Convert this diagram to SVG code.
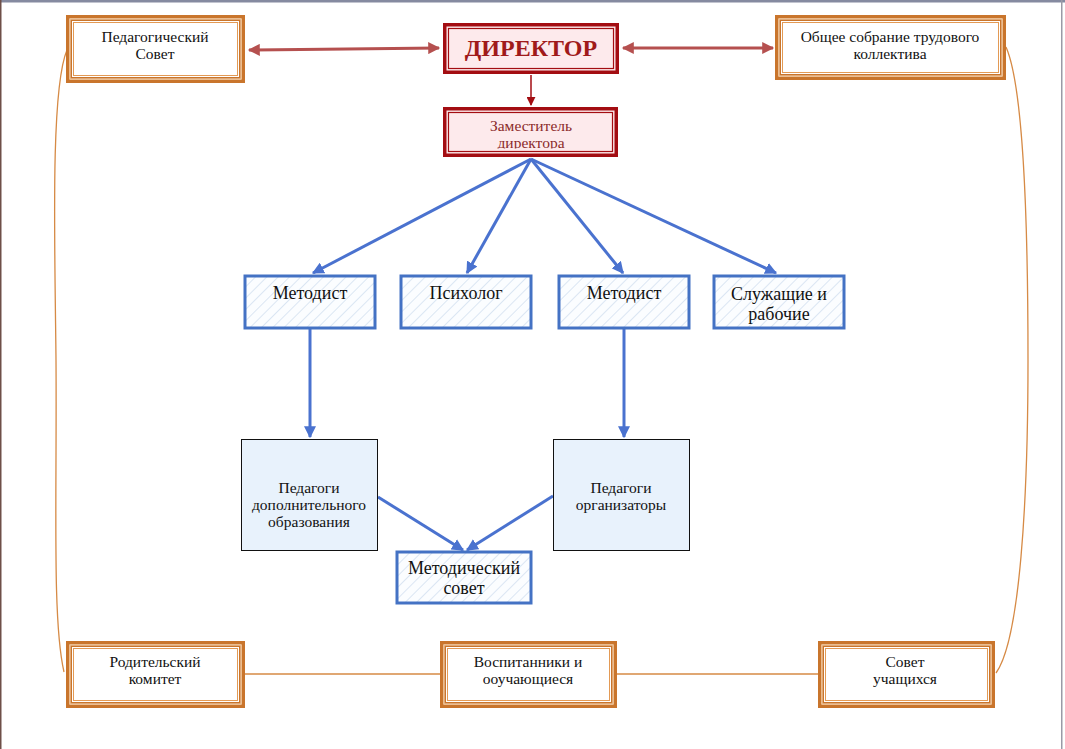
<svg xmlns="http://www.w3.org/2000/svg" width="1065" height="749" viewBox="0 0 1065 749">
<defs>
<style>
.t{font-family:"Liberation Serif","Times New Roman",serif;text-anchor:middle;fill:#111}
.s13{font-size:15.5px}
.s16{font-size:18px}
.o1{fill:none;stroke:#c9752c;stroke-width:3.5}
.o2{fill:none;stroke:#f2c28c;stroke-width:1}
.o3{fill:none;stroke:#c9752c;stroke-width:1.5}
.o4{fill:none;stroke:#e39a55;stroke-width:1}
.r1{fill:#fdeaec;stroke:#a30d12;stroke-width:3.5}
.r2{fill:none;stroke:#a30d12;stroke-width:1.2}
.b{fill:url(#hatch);stroke:#4472c4;stroke-width:3}
.bl{fill:#e8f2fc;stroke:#111;stroke-width:1}
.arr{fill:none;stroke:#4a72cf;stroke-width:3;marker-end:url(#ab)}
.red{fill:none;stroke:#b5504f;stroke-width:3}
.or{fill:none;stroke:#d68a45;stroke-width:1.3}
</style>
<pattern id="hatch" width="8" height="8" patternUnits="userSpaceOnUse" patternTransform="rotate(45)">
<rect width="8" height="8" fill="#fbfdff"/>
<line x1="0" y1="0" x2="0" y2="8" stroke="#dbe6f3" stroke-width="2"/>
</pattern>
<marker id="ab" viewBox="0 0 10 10" refX="9" refY="5" markerWidth="4" markerHeight="4" orient="auto" markerUnits="strokeWidth">
<path d="M0,0 L10,5 L0,10 z" fill="#4a72cf"/>
</marker>
<marker id="ar" viewBox="0 0 10 10" refX="9" refY="5" markerWidth="4.5" markerHeight="4" orient="auto-start-reverse" markerUnits="strokeWidth">
<path d="M0,0 L10,5 L0,10 z" fill="#b5504f"/>
</marker>
<marker id="ard" viewBox="0 0 10 10" refX="9" refY="5" markerWidth="6" markerHeight="6" orient="auto" markerUnits="strokeWidth">
<path d="M0,0 L10,5 L0,10 z" fill="#a30d12"/>
</marker>
</defs>
<rect width="1065" height="749" fill="#ffffff"/>
<rect x="0" y="0" width="1065" height="2.5" fill="#858aa0"/>
<rect x="0" y="0" width="1.5" height="749" fill="#6e4f48"/>
<rect x="1061" y="0" width="1.5" height="749" fill="#9a9aa6"/>

<g id="connectors">
<path class="or" d="M67,50 C50,90 55,250 56,360 C57,500 52,620 64,672"/>
<path class="or" d="M1006,47 C1025,90 1028,250 1028,360 C1028,500 1020,640 996,673"/>
<line class="or" x1="245" y1="674" x2="440" y2="674"/>
<line class="or" x1="617" y1="674" x2="818" y2="674"/>
<line class="red" x1="249" y1="50" x2="439" y2="48" marker-start="url(#ar)" marker-end="url(#ar)"/>
<line class="red" x1="623" y1="48" x2="773" y2="48" marker-start="url(#ar)" marker-end="url(#ar)"/>
<line x1="531" y1="75" x2="531" y2="105" stroke="#a30d12" stroke-width="1.5" marker-end="url(#ard)"/>
<line class="arr" x1="531" y1="159" x2="313" y2="273"/>
<line class="arr" x1="531" y1="159" x2="467" y2="273"/>
<line class="arr" x1="531" y1="159" x2="623" y2="273"/>
<line class="arr" x1="531" y1="159" x2="776" y2="273"/>
<line class="arr" x1="310" y1="329" x2="310" y2="437"/>
<line class="arr" x1="624" y1="329" x2="624" y2="437"/>
<line class="arr" x1="378" y1="497" x2="463" y2="550"/>
<line class="arr" x1="553" y1="496" x2="467" y2="550"/>
</g>

<g id="ped-sovet">
<rect x="66" y="15" width="179" height="68" fill="#fff"/>
<rect class="o1" x="67.75" y="16.75" width="175.5" height="64.5"/>
<rect class="o2" x="70" y="19" width="171" height="60"/>
<rect class="o3" x="71.25" y="20.25" width="168.5" height="57.5"/>
<rect class="o4" x="73.5" y="22.5" width="164" height="53"/>
<text class="t s13" x="155" y="42">Педагогический</text>
<text class="t s13" x="155" y="59">Совет</text>
</g>

<g id="director">
<rect class="r1" x="444.75" y="24.75" width="172.5" height="47.5"/>
<rect class="r2" x="448.5" y="28.5" width="165" height="40"/>
<text class="t" x="531" y="56" style="font-size:24px;font-weight:bold;fill:#a01a1a">ДИРЕКТОР</text>
</g>

<g id="obshchee">
<rect x="775" y="15" width="231" height="65" fill="#fff"/>
<rect class="o1" x="776.75" y="16.75" width="227.5" height="61.5"/>
<rect class="o2" x="779" y="19" width="223" height="57"/>
<rect class="o3" x="780.25" y="20.25" width="220.5" height="54.5"/>
<rect class="o4" x="782.5" y="22.5" width="216" height="50"/>
<text class="t s13" x="890" y="42">Общее собрание трудового</text>
<text class="t s13" x="890" y="59">коллектива</text>
</g>

<g id="zam">
<rect class="r1" x="444.75" y="108.75" width="171.5" height="46.5"/>
<rect class="r2" x="448.5" y="112.5" width="164" height="39"/>
<svg x="449" y="113" width="163" height="35.5" overflow="hidden">
<text class="t s13" x="82" y="18" style="fill:#8b2a2a">Заместитель</text>
<text class="t s13" x="82" y="35" style="fill:#8b2a2a">директора</text>
</svg>
</g>

<g id="metodist1">
<rect class="b" x="245" y="276" width="130" height="52"/>
<text class="t s16" x="310" y="299">Методист</text>
</g>
<g id="psiholog">
<rect class="b" x="401" y="276" width="130" height="52"/>
<text class="t s16" x="466" y="299">Психолог</text>
</g>
<g id="metodist2">
<rect class="b" x="559" y="276" width="130" height="52"/>
<text class="t s16" x="624" y="299">Методист</text>
</g>
<g id="sluzhashchie">
<rect class="b" x="714" y="276" width="130" height="52"/>
<text class="t s16" x="779" y="300">Служащие и</text>
<text class="t s16" x="779" y="320">рабочие</text>
</g>

<g id="pedagogi-dop">
<rect class="bl" x="241.5" y="439.5" width="136" height="111"/>
<text class="t s13" x="309" y="493">Педагоги</text>
<text class="t s13" x="309" y="510">дополнительного</text>
<text class="t s13" x="309" y="527">образования</text>
</g>
<g id="pedagogi-org">
<rect class="bl" x="553.5" y="439.5" width="136" height="111"/>
<text class="t s13" x="621" y="493">Педагоги</text>
<text class="t s13" x="621" y="510">организаторы</text>
</g>
<g id="metod-sovet">
<rect class="b" x="397" y="552" width="134" height="51"/>
<text class="t s16" x="464" y="574">Методический</text>
<text class="t s16" x="464" y="594">совет</text>
</g>

<g id="roditelskiy">
<rect x="66" y="641" width="179" height="67" fill="#fff"/>
<rect class="o1" x="67.75" y="642.75" width="175.5" height="63.5"/>
<rect class="o2" x="70" y="645" width="171" height="59"/>
<rect class="o3" x="71.25" y="646.25" width="168.5" height="56.5"/>
<rect class="o4" x="73.5" y="648.5" width="164" height="52"/>
<text class="t s13" x="155" y="667">Родительский</text>
<text class="t s13" x="155" y="684">комитет</text>
</g>
<g id="vospitanniki">
<rect x="440" y="641" width="177" height="67" fill="#fff"/>
<rect class="o1" x="441.75" y="642.75" width="173.5" height="63.5"/>
<rect class="o2" x="444" y="645" width="169" height="59"/>
<rect class="o3" x="445.25" y="646.25" width="166.5" height="56.5"/>
<rect class="o4" x="447.5" y="648.5" width="162" height="52"/>
<text class="t s13" x="528" y="667">Воспитанники и</text>
<text class="t s13" x="528" y="684">ооучающиеся</text>
</g>
<g id="sovet-uch">
<rect x="818" y="641" width="177" height="67" fill="#fff"/>
<rect class="o1" x="819.75" y="642.75" width="173.5" height="63.5"/>
<rect class="o2" x="822" y="645" width="169" height="59"/>
<rect class="o3" x="823.25" y="646.25" width="166.5" height="56.5"/>
<rect class="o4" x="825.5" y="648.5" width="162" height="52"/>
<text class="t s13" x="905" y="667">Совет</text>
<text class="t s13" x="905" y="684">учащихся</text>
</g>
</svg>
